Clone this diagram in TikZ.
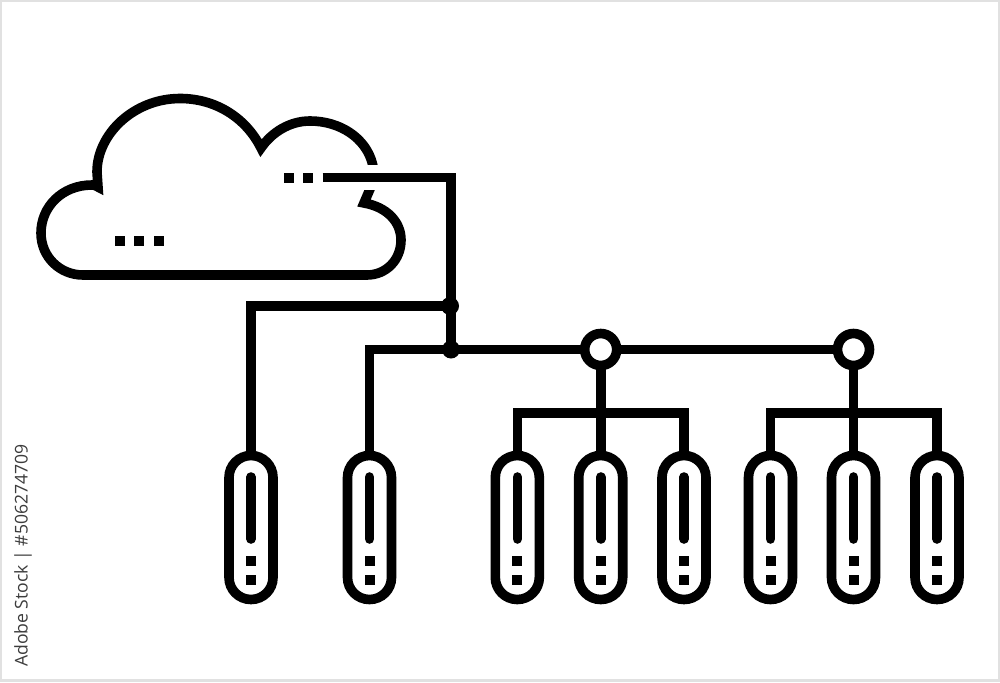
\documentclass[tikz,border=0pt]{standalone}
\usepackage{fontspec}
\setmainfont{Open Sans}
\definecolor{frameg}{RGB}{225,225,225}
\definecolor{stampg}{RGB}{60,60,60}
\tikzset{
  wire/.style={line width=9.6pt,line join=miter,line cap=butt,black},
  pillbox/.style={draw=black,fill=white,line width=9.6pt,rectangle,rounded corners=22pt,minimum width=44pt,minimum height=144pt,inner sep=0pt,outer sep=0pt},
  hub/.style={draw=black,fill=white,line width=9.6pt,circle,minimum size=32pt,inner sep=0pt,outer sep=0pt},
  joint/.style={fill=black,circle,minimum size=18pt,inner sep=0pt,outer sep=0pt},
  sq/.style={fill=black,rectangle,minimum size=10pt,inner sep=0pt,outer sep=0pt},
  lamp/.style={draw=black,line width=9.6pt,line cap=round},
}
\newcommand{\serverparts}[1]{%
  \draw[lamp] ([yshift=-21.5pt]#1.north) -- ([yshift=-83.5pt]#1.north);
  \node[sq] at ([yshift=-105.3pt]#1.north) {};
  \node[sq] at ([yshift=-124.5pt]#1.north) {};
}
\begin{document}
\begin{tikzpicture}[x=1pt,y=-1pt]
\useasboundingbox (0,0) rectangle (1000,682);
\fill[frameg] (0,0) rectangle (1000,682);
\fill[white] (2,2.5) rectangle (998,678.5);
% side stamp
\node[rotate=90,anchor=west,inner sep=0pt,text=stampg,font=\fontsize{17.6}{20}\selectfont] (stamp) at (23,667) {Adobe Stock | \#506274709};
% cloud
\draw[wire] (374,171) -- (372.5,164) .. controls (366,138) and (340,121) .. (310,121)
  .. controls (290,121) and (272,132) .. (261,148)
  .. controls (246,118) and (216,98.5) .. (180,98.5)
  .. controls (134,98.5) and (97,134) .. (97,172)
  -- (98,187)
  .. controls (96,185.5) and (94,185) .. (92,185)
  .. controls (62,185) and (41,207) .. (41,233)
  .. controls (41,257) and (60,275) .. (83,275)
  -- (367,275)
  .. controls (386,275) and (401,260) .. (401,240)
  .. controls (401,222) and (387,207) .. (364,203)
  -- (373,182);
\fill[white] (350,165) rectangle (395,190.3);
\foreach \n/\x/\y in {a/119.5/240.5,b/139/240.5,c/158.5/240.5,d/289/177.5,e/308/177.5}
  \node[sq] (\n) at (\x,\y) {};
% junctions and hubs
\coordinate (cloudport) at (322.7,177.5);
\coordinate (trunk) at (451,177.5);
\node[joint] (j1) at (450,306) {};
\node[joint] (j2) at (451,349.5) {};
\coordinate (c1) at (251,306);
\coordinate (c2) at (369.5,349.5);
% servers
\foreach \n/\x in {p1/251,p2/369.5,p3/517.3,p4/600.7,p5/684,p6/770.5,p7/853.5,p8/937}
  \node[pillbox] (\n) at (\x,527.5) {};
\foreach \n in {p1,p2,p3,p4,p5,p6,p7,p8} {\serverparts{\n}}
% connectors
\draw[wire] (cloudport) -- (trunk) -- (j2.center);
\draw[wire] (j1.center) -- (c1) -- (p1.north);
\draw[wire] (j2.center) -- (c2) -- (p2.north);
\node[hub] (h1) at (600.7,349.5) {};
\node[hub] (h2) at (853.5,349.5) {};
\draw[wire] (j2.center) -- (h1.west);
\draw[wire] (h1.east) -- (h2.west);
\draw[wire] (h1.south) -- (p4.north);
\draw[wire] (h2.south) -- (p7.north);
\coordinate (b1) at (517.3,412.7);
\coordinate (b2) at (684,412.7);
\coordinate (b3) at (770.5,412.7);
\coordinate (b4) at (937,412.7);
\draw[wire] (p3.north) -- (b1) -- (b2) -- (p5.north);
\draw[wire] (p6.north) -- (b3) -- (b4) -- (p8.north);
\end{tikzpicture}
\end{document}
